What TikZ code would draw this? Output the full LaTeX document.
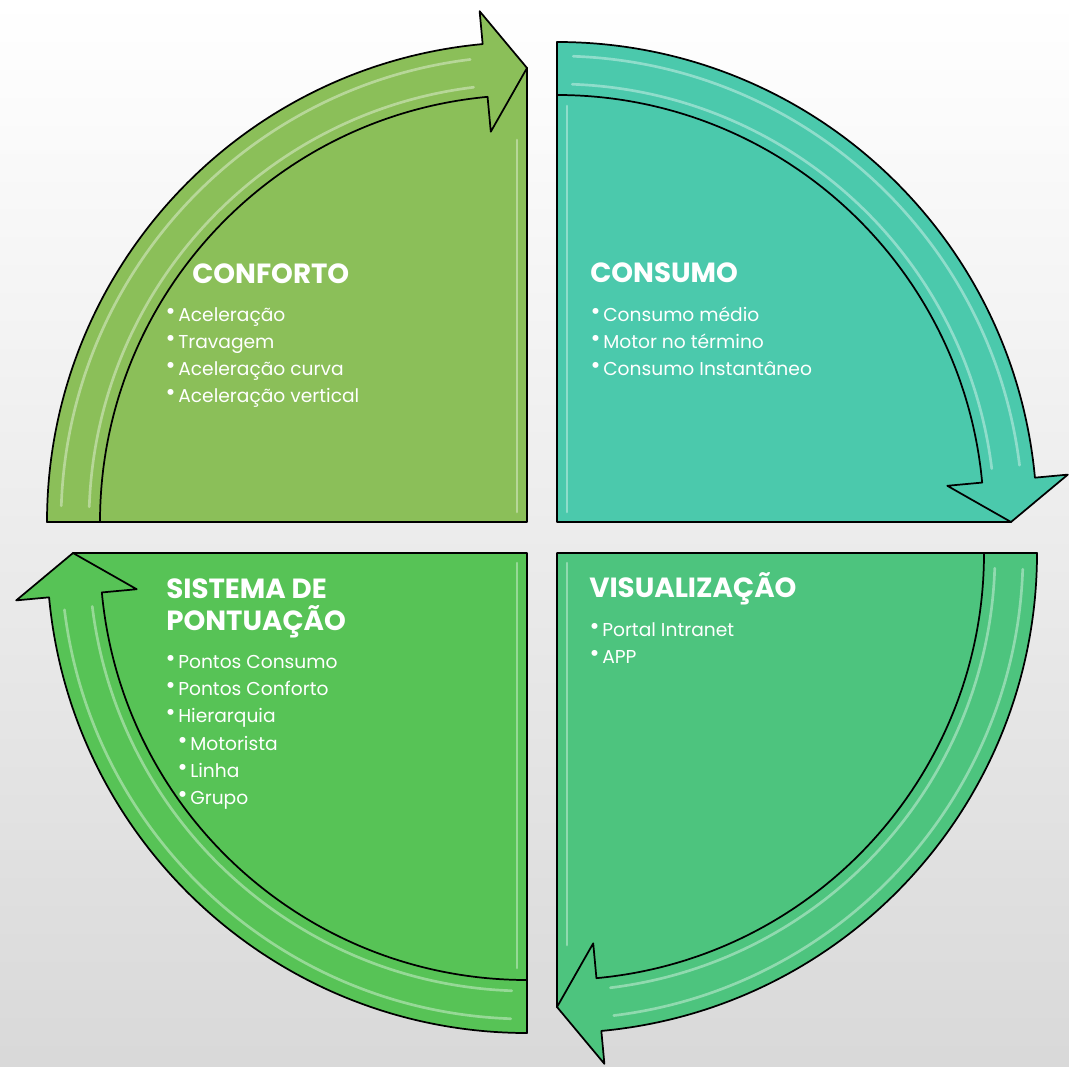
\documentclass[tikz,border=0pt]{standalone}
\usepackage{fontspec}
\setmainfont{Poppins}
\usetikzlibrary{positioning}
\definecolor{conforto}{HTML}{8BBF59}
\definecolor{consumo}{HTML}{4BC9AC}
\definecolor{visual}{HTML}{4DC47E}
\definecolor{pontos}{HTML}{57C356}
\def\rin{427}  % inner radius of the arrow band
\def\rout{480} % outer radius of the arrow band
\def\rmid{454} % radius of the arrow tip
\tikzset{
    sector/.style={draw=black, line width=1.3pt, line join=round}, % outline of each quarter
    gloss/.style={white, opacity=0.38, line width=2pt, line cap=round}, % light stripes
    title/.style={anchor=base west, inner sep=0pt, text=white, font=\bfseries\fontsize{20.8}{24}\selectfont},
    item/.style={anchor=base west, inner sep=0pt, text=white, font=\fontsize{14}{17}\selectfont,
        execute at begin node={\llap{\raisebox{0.12ex}{\scalebox{1.3}{\textbullet}}\hspace{2pt}}}},
}
% #1 corner, #2 start angle, #3 colour
\newcommand{\quadrant}[3]{%
    \begin{scope}[shift={(#1)}]
        \filldraw[sector, fill=#3] (0,0) -- ({#2}:\rmid) arc[start angle=#2, end angle=#2+90, radius=\rmid] -- cycle;
        \filldraw[sector, fill=#3] ({#2}:\rin) -- ({#2}:\rout)
            arc[start angle=#2, end angle=#2+84.7, radius=\rout]
            -- ({#2+84.7}:513) -- ({#2+90}:\rmid) -- ({#2+84.7}:392) -- ({#2+84.7}:\rin)
            arc[start angle=#2+84.7, end angle=#2, radius=\rin] -- cycle;
        \draw[gloss] ({#2+2}:438) arc[start angle=#2+2, end angle=#2+83, radius=438];
        \draw[gloss] ({#2+2}:466) arc[start angle=#2+2, end angle=#2+83, radius=466];
    \end{scope}}

\begin{document}
\begin{tikzpicture}[x=0.75pt, y=-0.75pt]
    \shade[top color=white, bottom color=black!15] (0,0) rectangle (1069,1066);
    \quadrant{527,522}{180}{conforto}
    \quadrant{557,522}{270}{consumo}
    \quadrant{557,553}{0}{visual}
    \quadrant{527,553}{90}{pontos}
    % stripes along the upright edges
    \draw[gloss] (517,140) -- (517,512);
    \draw[gloss] (567,106) -- (567,512);
    \draw[gloss] (567,563) -- (567,945);
    \draw[gloss] (517,563) -- (517,968);

    % texts
    \node[title] (conforto) at (192,283) {CONFORTO};
    \foreach \txt [count=\i] in {Aceleração, Travagem, Aceleração curva, Aceleração vertical}
        \node[item] (conforto\i) at (178,294+27*\i) {\txt};

    \node[title] (consumo) at (590,282) {CONSUMO};
    \foreach \txt [count=\i] in {Consumo médio, Motor no término, Consumo Instantâneo}
        \node[item] (consumo\i) at (603,294+27*\i) {\txt};

    \node[title] (visual) at (589,597) {VISUALIZAÇÃO};
    \foreach \txt [count=\i] in {Portal Intranet, APP}
        \node[item] (visual\i) at (602,609+27*\i) {\txt};

    \node[title] (pontos) at (166,598) {SISTEMA DE};
    \node[title] (pontos2) at (166,630) {PONTUAÇÃO};
    \foreach \txt [count=\i] in {Pontos Consumo, Pontos Conforto, Hierarquia}
        \node[item] (pontos\i) at (178,641+27*\i) {\txt};
    \foreach \txt [count=\i] in {Motorista, Linha, Grupo}
        \node[item] (sub\i) at (190,723+27*\i) {\txt};
\end{tikzpicture}
\end{document}
